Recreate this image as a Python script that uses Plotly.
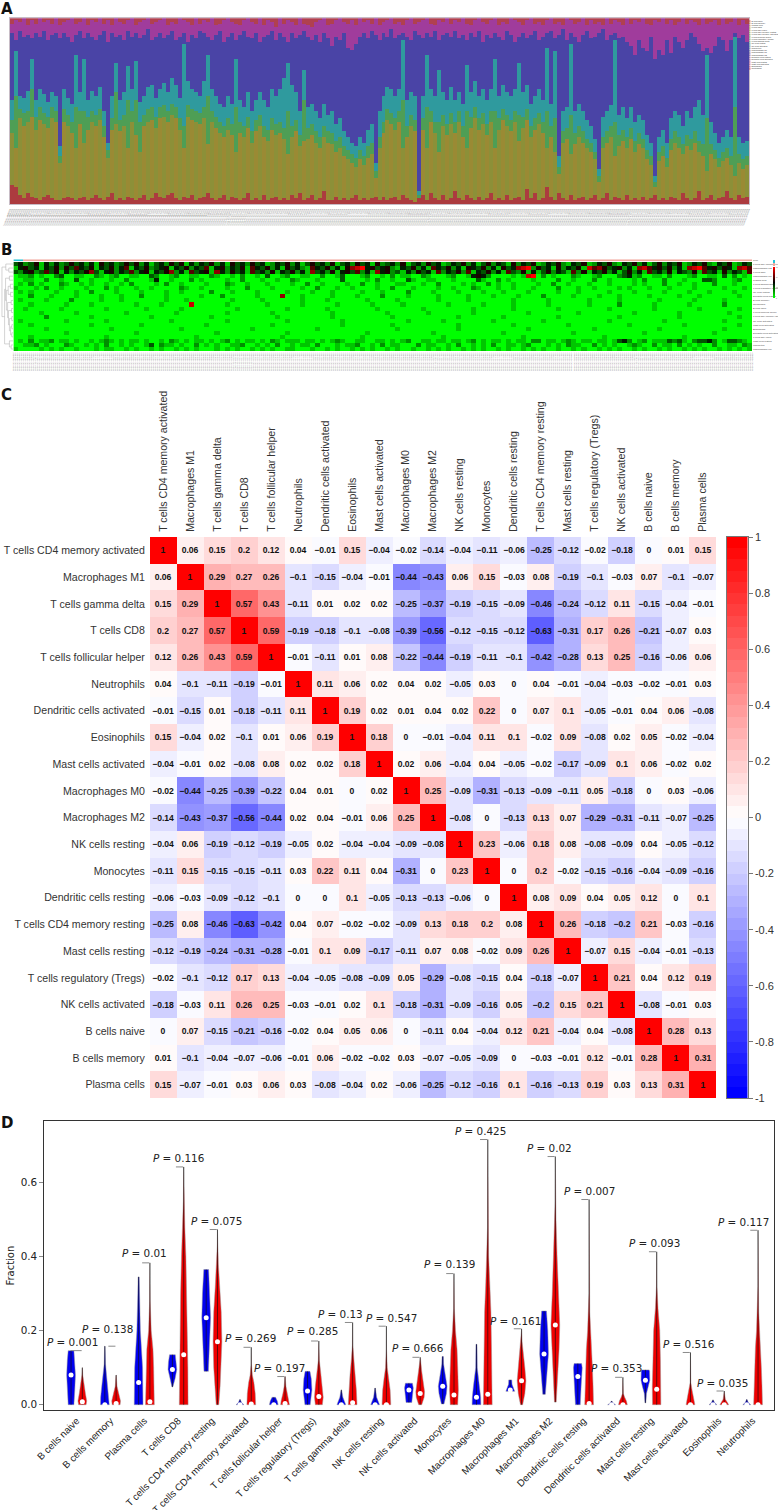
import plotly.graph_objects as go
import numpy as np

W, H = 778, 1510

# ---------- panel A: stacked composition, cumulative percent
RED_TOP = [10,9,5,3,6,4,3,2,4,5,3,2,2,3,4,3,2,3,4,2,3,5,3,2,4,6,2,3,2,4,3,2,3,5,2,3,6,
           4,3,5,6,3,2,4,3,5,2,3,4,6,3,2,3,5,2,4,3,2,3,6,2,3,2,5,2,3,4,2,3,2,5,3,6,2,
           3,5,2,3,7,2,2,4,2,3,2,3,5,2,3,2,3,4,2,4,2,3,4,2,5,3,2,1,3,5,2,6,3,2,5,2,3,
           7,3,2,5,3,2,4,2,3,6,2,3,2,5,2,3,4,2,8,3,6,2,3,9,4,2,6,3,2,5,2,3,4,2,3,5,2,
           3,6,2,4,3,2,5,2,3,2,4,2,3,5,2,3,2,4,3,2,6,3,2,3,7,2,3,5,2,3,4,7,3,2,5,3,4]
OLIVE_TOP = [38,30,46,42,44,47,40,45,43,41,46,44,22,44,42,38,30,43,33,40,44,42,45,36,25,40,43,39,42,30,44,37,28,42,44,45,41,
             46,47,44,48,46,40,30,47,45,44,43,46,32,44,41,38,36,40,37,28,38,36,41,33,39,42,36,34,40,37,38,35,27,36,39,31,34,
             35,37,33,30,36,33,32,28,30,26,24,22,20,24,21,25,27,14,30,38,45,43,40,44,30,36,42,39,3,40,30,44,38,28,42,37,43,
             38,44,36,30,41,46,40,43,37,44,30,40,45,42,39,44,34,41,45,36,40,43,38,30,36,28,16,33,35,27,32,36,33,30,28,24,12,
             30,33,36,26,31,34,30,35,28,32,30,24,21,9,23,26,20,29,33,30,27,31,29,33,28,26,18,27,24,20,23,25,21,15,22,19,21]
GREEN_TOP = [45,58,51,49,50,62,47,52,49,47,52,50,26,51,48,44,52,50,50,47,50,48,51,42,29,46,60,45,48,56,50,56,44,48,51,52,47,
             52,53,50,54,52,46,42,53,51,50,49,52,58,50,47,44,42,46,43,52,44,42,47,39,45,48,42,40,46,43,44,41,50,42,45,37,56,
             41,43,39,36,42,39,38,34,36,31,29,27,25,29,26,31,33,18,36,44,51,49,46,50,56,42,48,45,5,46,52,50,44,44,48,43,49,
             44,50,42,50,47,52,46,49,43,50,50,46,51,48,45,50,48,47,51,42,46,49,44,50,42,46,20,39,41,48,38,42,39,35,33,28,15,
             36,39,42,44,37,40,36,41,34,38,35,29,26,12,28,31,25,35,39,36,32,37,35,39,34,32,46,32,29,25,28,30,26,52,27,24,26]
TEAL_TOP = [56,82,58,57,61,78,56,62,59,55,60,58,31,62,57,54,80,60,78,56,61,58,63,50,33,58,76,56,60,74,62,77,55,58,63,64,57,
            62,65,60,68,64,57,86,66,62,60,58,66,80,62,58,54,52,58,54,78,56,52,60,50,56,60,56,52,62,58,62,68,76,64,60,50,72,
            52,54,50,46,54,48,50,43,46,39,36,33,31,36,33,40,43,22,50,58,63,62,58,62,88,56,60,58,7,58,80,62,58,72,60,56,63,
            56,60,54,75,60,66,58,62,56,62,78,58,64,60,58,62,76,60,64,54,58,62,56,84,54,82,26,50,52,86,50,54,50,45,42,35,19,
            47,50,53,88,48,52,46,52,44,48,45,37,33,15,36,40,33,46,50,48,42,50,46,52,56,48,80,44,38,33,36,40,36,90,36,33,34]
BLUE_TOP = [92,88,93,90,91,89,92,90,93,88,91,92,89,92,90,87,91,93,89,92,90,88,91,93,87,92,90,91,88,93,90,92,89,91,94,88,90,
            92,89,91,93,88,90,92,87,91,89,93,92,90,88,91,93,87,90,92,88,91,93,90,89,92,87,90,91,93,88,92,90,87,92,89,91,93,
            90,88,91,87,92,89,85,90,88,92,84,83,86,90,92,89,93,91,88,92,90,94,89,91,92,90,88,93,91,89,92,90,93,88,91,92,90,
            93,89,91,88,92,90,93,87,91,89,92,90,88,93,91,87,90,92,89,91,93,88,90,92,93,89,91,94,88,92,90,87,91,93,89,90,92,
            94,88,91,92,89,90,87,85,80,88,84,82,90,78,83,80,88,81,90,87,84,88,92,90,86,82,84,81,85,90,88,82,88,92,89,91,87]
MAGENTA_TOP = [97,99,98,100,96,99,97,100,98,99,97,100,96,98,99,100,97,98,100,96,99,98,100,97,99,96,100,98,97,99,100,96,98,99,100,97,98,
               99,100,96,98,97,100,99,98,96,100,97,99,98,100,96,97,99,100,98,97,96,99,100,98,97,100,96,99,98,95,100,97,99,98,96,100,97,
               96,95,98,99,100,96,97,99,100,98,97,99,96,100,98,99,97,100,96,98,99,100,97,98,96,99,100,97,98,99,100,97,96,99,98,100,97,
               99,98,100,97,96,99,100,98,97,99,100,96,98,97,100,99,98,96,99,100,97,98,96,99,100,97,98,96,100,99,97,98,100,96,99,97,98,
               96,100,97,99,98,96,100,97,99,98,100,97,96,99,98,100,97,99,96,98,100,97,99,98,96,100,97,98,99,96,100,97,98,100,96,99,97]

STACK_NAMES = ["B cells", "T cells CD8 / CD4", "T cells other", "NK cells", "Macrophages", "Dendritic / Mast", "Neutrophils"]
STACK_COLORS = ["#AC3B3F", "#968B38", "#4E9E55", "#2F9A9E", "#4A44A6", "#A03C9C", "#B04050"]

LEGEND_NAMES = ["B cells naive", "B cells memory", "Plasma cells", "T cells CD8", "T cells CD4 naive",
                "T cells CD4 memory resting", "T cells CD4 memory activated", "T cells follicular helper",
                "T cells regulatory (Tregs)", "T cells gamma delta", "NK cells resting", "NK cells activated",
                "Monocytes", "Macrophages M0", "Macrophages M1", "Macrophages M2", "Dendritic cells resting",
                "Dendritic cells activated", "Mast cells resting", "Mast cells activated", "Eosinophils", "Neutrophils"]
LEGEND_COLORS = ["#C8403C", "#B8642C", "#A87C28", "#A08C28", "#8C9430", "#74A038", "#58A048", "#48A058",
                 "#40A070", "#38A088", "#30A0A0", "#3090B0", "#3878B0", "#4060B0", "#4848A8", "#5840A8",
                 "#7040A8", "#8840A8", "#A03CA0", "#B03C90", "#B83C78", "#C03C60"]

# ---------- panel B: heatmap, one digit per column (0 = green, 5 = black, 9 = red)
HEAT_LABELS = ["T cells CD4 memory resting", "Macrophages M2", "T cells CD8", "Macrophages M0", "Plasma cells",
               "T cells gamma delta", "T cells regulatory (Tregs)", "NK cells resting", "Dendritic cells resting",
               "B cells memory", "Neutrophils", "B cells naive", "T cells follicular helper", "T cells CD4 memory activated",
               "NK cells activated", "Mast cells activated", "Eosinophils", "Dendritic cells activated", "T cells CD4 naive",
               "Mast cells resting", "Monocytes", "Macrophages M1"]
HEAT_ROWS = [
    "342351424235342415342353524134253514243524153425341243524135342513425341523425134253412435241352431524351243521435124352143524135243512435214351243",
    "145341435253643514352461435234514352436145243516435241534216435241578945345214352416435241543524153478925341524351867534524178645352417896453541786",
    "324523635142435731452436245143572416345174253416342514352417342514536241745231425341624352614352416325141352431625143524135241634251432516341524316",
    "011201002300110021012001100320012001100210010200103001200110020013000120010201100210001200145420000101890201000210012000234120011020001200110302010",
    "001100200100300100010020000140010002010000100200010010021000100003000010200100310011000100003100201000010000200100020010000102000200010003320001200",
    "010201000210010100100102000010200100001000210010001000010020010000100200100011000100200001010020100100001002001000100010000101000200100100020001000",
    "100010200100001000201000100100000210010000100020000100000100200010010000100200010000100100021000100100010000200010010000101000100010000100000100010",
    "010100001000100200001000010000100100000200010000100000100001000100000100010000200001000010000100010000100000100010000010000100000100001000100001000",
    "000200010000100001000100020000100000010002000000100007000100000100001000020000100000100000100001000010000200000100001000100000100000100010000000100",
    "010000100002000001000100000000100010000000010000010000000100001000000010000010000000100000100000000100000010000000100000100000001000000100000100000",
    "000100000010000100000000100001000008000000100000001000000100000010000001000001000000001000000100000100000010000000100000200000010000001000000200000",
    "001000000100000000100000001000000100000000001000000000100000001000000000100000000100000000010000000100000000100000000010000000010000000010000000100",
    "000001000000100000000010000000001000000000100000000100000000000100000000001000000010000000010000000000100000000010000000000100000000100000000010000",
    "000000200000000100000000000100000000000100000000000010000000000100000000000100000000000010000000010000000000100000000000100000000000100000000000100",
    "010000000010000000100000000000010000000000100000000000100000000001000000000000100000010000000001000000000100000000000010000000000100000000000100000",
    "000100000000000100000000010000000000001000000000000100000000000001000000000100000000000010000000000100000000001000000000001000000000010000000000100",
    "000000100000000000010000000000000100000000000001000000000000100000000000000010000000000010000000000000100000000000010000000000001000000000000100000",
    "000000000010000000000000100000000000000010000000000000100000000000000010000000000001000000000000010000000000000100000000000001000000000000010000000",
    "000100000000000000100000000000000000100000000000000001000000000000000100000000000000010000000000000001000000000000000100000000000000010000000000000",
    "010201120110100101210101101001021010110101201011010210111011010121001100110101200110110110120101101011022011012101101101342012011132310233420133210",
    "001120100021001010200101001302110100201010011200101020010110200010112001020110002011001020010102001101200010102110020101001210020110201010020011021",
    "100001010100100010110010100101001010100010101001010100110001001010010101001010010010101001010100101001010100100101001010100101001010010101001010101",
]
ANNOT_BAR = [0, 0] + [1] * 148
DENDRO_MERGES = [(1, 0, 2, 0, .35), (0, 0, 1.5, .35, .6), (20, 0, 21, 0, .15), (19, 0, 20.5, .15, .3), (3, 0, 4, 0, .3),
                 (17, 0, 18, 0, .1), (15, 0, 16, 0, .1), (15.5, .1, 17.5, .1, .2), (13, 0, 14, 0, .1), (13.5, .1, 16.5, .2, .3),
                 (11, 0, 12, 0, .12), (11.5, .12, 15, .3, .38), (9, 0, 10, 0, .15), (9.5, .15, 13.25, .38, .45), (7, 0, 8, 0, .2),
                 (5, 0, 6, 0, .22), (5.5, .22, 7.5, .2, .4), (6.5, .4, 11.4, .45, .55), (3.5, .3, 9, .55, .62),
                 (6.25, .62, 19.75, .3, .7), (.75, .6, 13, .7, .92)]

# ---------- panel C: correlation matrix
CORR_LABELS = ["T cells CD4 memory activated", "Macrophages M1", "T cells gamma delta", "T cells CD8", "T cells follicular helper",
               "Neutrophils", "Dendritic cells activated", "Eosinophils", "Mast cells activated", "Macrophages M0", "Macrophages M2",
               "NK cells resting", "Monocytes", "Dendritic cells resting", "T cells CD4 memory resting", "Mast cells resting",
               "T cells regulatory (Tregs)", "NK cells activated", "B cells naive", "B cells memory", "Plasma cells"]
CORR = [
    [1, .06, .15, .2, .12, .04, -.01, .15, -.04, -.02, -.14, -.04, -.11, -.06, -.25, -.12, -.02, -.18, 0, .01, .15],
    [.06, 1, .29, .27, .26, -.1, -.15, -.04, -.01, -.44, -.43, .06, .15, -.03, .08, -.19, -.1, -.03, .07, -.1, -.07],
    [.15, .29, 1, .57, .43, -.11, .01, .02, .02, -.25, -.37, -.19, -.15, -.09, -.46, -.24, -.12, .11, -.15, -.04, -.01],
    [.2, .27, .57, 1, .59, -.19, -.18, -.1, -.08, -.39, -.56, -.12, -.15, -.12, -.63, -.31, .17, .26, -.21, -.07, .03],
    [.12, .26, .43, .59, 1, -.01, -.11, .01, .08, -.22, -.44, -.19, -.11, -.1, -.42, -.28, .13, .25, -.16, -.06, .06],
    [.04, -.1, -.11, -.19, -.01, 1, .11, .06, .02, .04, .02, -.05, .03, 0, .04, -.01, -.04, -.03, -.02, -.01, .03],
    [-.01, -.15, .01, -.18, -.11, .11, 1, .19, .02, .01, .04, .02, .22, 0, .07, .1, -.05, -.01, .04, .06, -.08],
    [.15, -.04, .02, -.1, .01, .06, .19, 1, .18, 0, -.01, -.04, .11, .1, -.02, .09, -.08, .02, .05, -.02, -.04],
    [-.04, -.01, .02, -.08, .08, .02, .02, .18, 1, .02, .06, -.04, .04, -.05, -.02, -.17, -.09, .1, .06, -.02, .02],
    [-.02, -.44, -.25, -.39, -.22, .04, .01, 0, .02, 1, .25, -.09, -.31, -.13, -.09, -.11, .05, -.18, 0, .03, -.06],
    [-.14, -.43, -.37, -.56, -.44, .02, .04, -.01, .06, .25, 1, -.08, 0, -.13, .13, .07, -.29, -.31, -.11, -.07, -.25],
    [-.04, .06, -.19, -.12, -.19, -.05, .02, -.04, -.04, -.09, -.08, 1, .23, -.06, .18, .08, -.08, -.09, .04, -.05, -.12],
    [-.11, .15, -.15, -.15, -.11, .03, .22, .11, .04, -.31, 0, .23, 1, 0, .2, -.02, -.15, -.16, -.04, -.09, -.16],
    [-.06, -.03, -.09, -.12, -.1, 0, 0, .1, -.05, -.13, -.13, -.06, 0, 1, .08, .09, .04, .05, .12, 0, .1],
    [-.25, .08, -.46, -.63, -.42, .04, .07, -.02, -.02, -.09, .13, .18, .2, .08, 1, .26, -.18, -.2, .21, -.03, -.16],
    [-.12, -.19, -.24, -.31, -.28, -.01, .1, .09, -.17, -.11, .07, .08, -.02, .09, .26, 1, -.07, .15, -.04, -.01, -.13],
    [-.02, -.1, -.12, .17, .13, -.04, -.05, -.08, -.09, .05, -.29, -.08, -.15, .04, -.18, -.07, 1, .21, .04, .12, .19],
    [-.18, -.03, .11, .26, .25, -.03, -.01, .02, .1, -.18, -.31, -.09, -.16, .05, -.2, .15, .21, 1, -.08, -.01, .03],
    [0, .07, -.15, -.21, -.16, -.02, .04, .05, .06, 0, -.11, .04, -.04, .12, .21, -.04, .04, -.08, 1, .28, .13],
    [.01, -.1, -.04, -.07, -.06, -.01, .06, -.02, -.02, .03, -.07, -.05, -.09, 0, -.03, -.01, .12, -.01, .28, 1, .31],
    [.15, -.07, -.01, .03, .06, .03, -.08, -.04, .02, -.06, -.25, -.12, -.16, .1, -.16, -.13, .19, .03, .13, .31, 1],
]

# ---------- panel D: violins, each profile is (fraction, relative density)
VIOLIN_LABELS = ["B cells naive", "B cells memory", "Plasma cells", "T cells CD8", "T cells CD4 memory resting",
                 "T cells CD4 memory activated", "T cells follicular helper", "T cells regulatory (Tregs)", "T cells gamma delta",
                 "NK cells resting", "NK cells activated", "Monocytes", "Macrophages M0", "Macrophages M1", "Macrophages M2",
                 "Dendritic cells resting", "Dendritic cells activated", "Mast cells resting", "Mast cells activated",
                 "Eosinophils", "Neutrophils"]
BLUE_PROFILES = [
    [(0, .65), (.04, .85), (.08, 1), (.12, .85), (.146, .65)],
    [(0, 1), (.02, .95), (.05, .7), (.08, .4), (.11, .15), (.158, .05)],
    [(0, 1), (.1, .9), (.15, .65), (.2, .4), (.3, .18), (.345, .12)],
    [(.048, .1), (.07, .6), (.095, 1), (.115, .9), (.135, .65)],
    [(.09, .5), (.15, .7), (.235, 1), (.3, .85), (.365, .55)],
    [(0, .9), (.005, .4), (.014, .05)],
    [(0, 1), (.01, .8), (.02, .4)],
    [(0, .6), (.02, .85), (.04, 1), (.07, .85), (.09, .55)],
    [(0, 1), (.01, .75), (.02, .35), (.04, .06)],
    [(0, 1), (.01, .75), (.02, .35), (.045, .06)],
    [(.006, .65), (.03, .9), (.045, 1), (.058, .8)],
    [(.002, .3), (.03, .85), (.05, 1), (.08, .6), (.11, .2), (.13, .15)],
    [(0, 1), (.02, .95), (.05, .7), (.08, .4), (.1, .18), (.163, .12)],
    [(.036, 1), (.045, .7), (.055, .4), (.067, .35)],
    [(.028, .3), (.07, .55), (.137, 1), (.2, .85), (.253, .55)],
    [(0, .55), (.05, .75), (.076, .95), (.1, 1), (.111, .85)],
    [(0, .9), (.004, .4), (.01, .05)],
    [(.005, .1), (.03, .25), (.05, .7), (.066, 1), (.09, .95), (.094, .85)],
    [],
    [(0, .9), (.005, .4), (.013, .05)],
    [(0, .9), (.005, .4), (.014, .05)],
]
RED_PROFILES = [
    [(0, .85), (.01, 1), (.03, .7), (.06, .3), (.08, .1), (.1, .03)],
    [(0, .9), (.01, 1), (.03, .6), (.05, .2), (.08, .03)],
    [(0, 1), (.05, .95), (.1, .85), (.15, .7), (.2, .3), (.28, .06), (.383, .01)],
    [(0, 1), (.1, .95), (.2, .85), (.3, .7), (.4, .5), (.48, .25), (.55, .08), (.642, .01)],
    [(0, .3), (.05, .6), (.1, .85), (.17, 1), (.25, .85), (.32, .5), (.38, .2), (.43, .05), (.473, .01)],
    [(0, 1), (.03, .9), (.06, .6), (.08, .25), (.11, .04), (.155, .01)],
    [(0, 1), (.01, .9), (.03, .5), (.05, .2), (.076, .03)],
    [(0, .8), (.02, 1), (.05, .8), (.09, .4), (.12, .12), (.172, .01)],
    [(0, 1), (.04, .85), (.08, .6), (.12, .3), (.16, .06), (.222, .01)],
    [(0, 1), (.04, .85), (.07, .55), (.1, .2), (.15, .03), (.212, .01)],
    [(0, .35), (.02, .9), (.035, 1), (.06, .7), (.09, .35), (.128, .03)],
    [(0, .85), (.04, 1), (.1, .85), (.15, .7), (.2, .35), (.26, .08), (.354, .01)],
    [(0, 1), (.05, .95), (.15, .85), (.25, .72), (.33, .45), (.4, .2), (.48, .05), (.716, .005)],
    [(0, .25), (.03, .75), (.065, 1), (.1, .75), (.14, .45), (.17, .12), (.205, .01)],
    [(.007, .2), (.07, .45), (.15, .85), (.215, 1), (.3, .7), (.4, .4), (.5, .15), (.55, .04), (.67, .005)],
    [(0, 1), (.05, .9), (.1, .75), (.15, .63), (.2, .35), (.25, .15), (.3, .03), (.554, .005)],
    [(0, 1), (.01, .8), (.02, .4), (.03, .1), (.074, .01)],
    [(0, .95), (.05, 1), (.12, .85), (.2, .7), (.26, .3), (.32, .06), (.413, .005)],
    [(0, 1), (.02, .7), (.04, .35), (.06, .08), (.141, .005)],
    [(0, 1), (.005, .75), (.015, .25), (.037, .01)],
    [(0, 1), (.05, .9), (.1, .75), (.154, .6), (.2, .35), (.25, .15), (.32, .03), (.471, .005)],
]
BLUE_MEDIANS = [.08, 0, .06, .095, .235, 0, 0, .037, 0, 0, .04, .05, .02, .04, .137, .076, 0, .066, None, 0, 0]
RED_MEDIANS = [.008, .003, .008, .135, .17, .002, .003, .022, .005, 0, .03, .026, .028, .065, .215, .003, 0, .042, 0, 0, 0]
P_VALUES = ["0.001", "0.138", "0.01", "0.116", "0.075", "0.269", "0.197", "0.285", "0.13", "0.547", "0.666",
            "0.139", "0.425", "0.161", "0.02", "0.007", "0.353", "0.093", "0.516", "0.035", "0.117"]
P_BRACKET_Y = [.146, .158, .383, .642, .473, .155, .076, .172, .222, .212, .128, .354, .716, .205, .67, .554, .074, .413, .141, .037, .471]
P_LABEL_Y = [.169, .205, .41, .666, .496, .179, .099, .198, .245, .235, .152, .38, .739, .227, .693, .577, .098, .437, .163, .059, .492]
P_LABEL_SHIFT = [-4.4, -3, 0, 0, 4.9, 4.4, .3, -.9, -6.7, 11, 3.2, 1, -1.7, -.8, -.3, 5.6, -.5, 3, 3.3, 3.5, -9.3]

def dom_x(left, right):
    return [left / W, right / W]

def dom_y(top, bottom):
    return [1 - bottom / H, 1 - top / H]

fig = go.Figure()

# panel A
n_a = len(RED_TOP)
cumul = [[0] * n_a, RED_TOP, OLIVE_TOP, GREEN_TOP, TEAL_TOP, BLUE_TOP, MAGENTA_TOP, [100] * n_a]
for k in range(7):
    heights = np.clip(np.array(cumul[k + 1]) - np.array(cumul[k]), 0, None) / 100
    colors = STACK_COLORS[k]
    if k == 1:
        colors = ["#9A8A34" if i % 2 else "#8C9038" for i in range(n_a)]
    fig.add_trace(go.Bar(x=list(range(n_a)), y=heights, name=STACK_NAMES[k], marker=dict(color=colors, line=dict(width=0)),
                         xaxis="x", yaxis="y", hoverinfo="skip"))

fig.add_trace(go.Scatter(x=[0] * len(LEGEND_NAMES), y=list(range(len(LEGEND_NAMES))), mode="markers+text", text=LEGEND_NAMES,
                         textposition="middle right", textfont=dict(size=2, family="Liberation Sans", color="#333333"),
                         marker=dict(symbol="square", size=1.6, color=LEGEND_COLORS), xaxis="x7", yaxis="y7", hoverinfo="skip"))

# panel B
n_b = max(len(r) for r in HEAT_ROWS)
heat_z = [[int(c) for c in r.ljust(n_b, "0")] for r in HEAT_ROWS]
heat_scale = [[0, "#00FF00"], [.5, "#000000"], [1, "#FF0000"]]
fig.add_trace(go.Heatmap(z=heat_z, zmin=0, zmax=9, colorscale=heat_scale, showscale=False,
                         xaxis="x2", yaxis="y2", hoverinfo="skip"))
fig.add_trace(go.Heatmap(z=[ANNOT_BAR], zmin=0, zmax=1, colorscale=[[0, "#22C5D8"], [1, "#F3A79E"]], showscale=False,
                         xaxis="x5", yaxis="y5", hoverinfo="skip"))
den_x, den_y = [], []
for ya, ha, yb, hb, h in DENDRO_MERGES:
    den_x += [ha, h, h, hb, None]
    den_y += [ya, ya, yb, yb, None]
fig.add_trace(go.Scatter(x=den_x, y=den_y, mode="lines", line=dict(color="#A8A8A8", width=.5), xaxis="x6", yaxis="y6", hoverinfo="skip"))
scale_b = list(np.linspace(0, 9, 31))
fig.add_trace(go.Heatmap(z=[[v] for v in scale_b], y=scale_b, zmin=0, zmax=9, colorscale=heat_scale, showscale=False,
                         xaxis="x9", yaxis="y9", hoverinfo="skip"))
# the swatches of the Type legend above the small scale
fig.add_trace(go.Heatmap(z=[[1], [0]], zmin=0, zmax=1, colorscale=[[0, "#22C5D8"], [1, "#F3A79E"]], showscale=False,
                         xaxis="x10", yaxis="y10", hoverinfo="skip"))

# panel C, 50 steps from blue over white to red like the corrplot palette
steps = []
eps = 1e-4
for i in range(50):
    t = i / 49
    if t < .5:
        v = int(round(255 * t * 2))
        col = f"rgb({v},{v},255)"
    else:
        v = int(round(255 * (1 - t) * 2))
        col = f"rgb(255,{v},{v})"
    lo = 0 if i == 0 else i / 50 + eps
    hi = 1 if i == 49 else (i + 1) / 50 + eps
    steps += [[lo, col], [hi, col]]
corr_text = [[f"{v:g}".replace("-", "\u2212") for v in row] for row in CORR]
fig.add_trace(go.Heatmap(z=CORR, x=CORR_LABELS, y=CORR_LABELS, text=corr_text, texttemplate="<b>%{text}</b>",
                         textfont=dict(size=8.6, family="Liberation Sans", color="#111111"),
                         zmin=-1, zmax=1, colorscale=steps, showscale=False, xaxis="x3", yaxis="y3", hoverinfo="skip"))
scale_c = [round(-.98 + .04 * i, 2) for i in range(50)]
fig.add_trace(go.Heatmap(z=[[v] for v in scale_c], y=scale_c, zmin=-1, zmax=1, colorscale=steps, showscale=False,
                         xaxis="x8", yaxis="y8", hoverinfo="skip"))

# panel D
OFFSET = .167
MAX_HALF = .13

def violin_outline(profiles, side):
    xs, ys = [], []
    for i, prof in enumerate(profiles):
        if not prof:
            continue
        center = i + side * OFFSET
        vals = [p[0] for p in prof]
        half = [p[1] * MAX_HALF for p in prof]
        xs += [center - h for h in half] + [center + h for h in reversed(half)] + [center - half[0], None]
        ys += vals + list(reversed(vals)) + [vals[0], None]
    return xs, ys

for profiles, side, color in [(BLUE_PROFILES, -1, "#0000F0"), (RED_PROFILES, 1, "#F00000")]:
    xs, ys = violin_outline(profiles, side)
    fig.add_trace(go.Scatter(x=xs, y=ys, mode="lines", fill="toself", fillcolor=color,
                             line=dict(color="rgba(150,150,150,0.7)", width=.7), xaxis="x4", yaxis="y4", hoverinfo="skip"))
wx, wy = [], []
for profiles, side in [(BLUE_PROFILES, -1), (RED_PROFILES, 1)]:
    for i, prof in enumerate(profiles):
        if prof:
            wx += [i + side * OFFSET, i + side * OFFSET, None]
            wy += [prof[0][0], prof[-1][0], None]
fig.add_trace(go.Scatter(x=wx, y=wy, mode="lines", line=dict(color="rgba(15,15,15,0.8)", width=.8), xaxis="x4", yaxis="y4", hoverinfo="skip"))
med_x = [i - OFFSET for i, m in enumerate(BLUE_MEDIANS) if m is not None] + [i + OFFSET for i in range(len(RED_MEDIANS))]
med_y = [m for m in BLUE_MEDIANS if m is not None] + RED_MEDIANS
fig.add_trace(go.Scatter(x=med_x, y=med_y, mode="markers", marker=dict(color="white", size=5, line=dict(width=0)),
                         xaxis="x4", yaxis="y4", hoverinfo="skip", cliponaxis=False))
bx, by = [], []
for i, top in enumerate(P_BRACKET_Y):
    left = i + OFFSET - (.34 if i == 0 else .23)
    bx += [left, i + OFFSET - .02, None]
    by += [top, top, None]
fig.add_trace(go.Scatter(x=bx, y=by, mode="lines", line=dict(color="#8A8A8A", width=1), xaxis="x4", yaxis="y4", hoverinfo="skip"))

annotations = []
for i, p in enumerate(P_VALUES):
    annotations.append(dict(xref="x4", yref="y4", x=i + P_LABEL_SHIFT[i] / 33.78, y=P_LABEL_Y[i], text=f"<i>P</i> = {p}", showarrow=False,
                            font=dict(size=10.4, family="DejaVu Sans", color="#222222"), xanchor="center", yanchor="middle"))
for letter, ypos in [("A", 9), ("B", 250), ("C", 395), ("D", 1123)]:
    annotations.append(dict(xref="paper", yref="paper", x=0, y=1 - ypos / H, text=f"<b>{letter}</b>", showarrow=False,
                            font=dict(size=15, family="DejaVu Sans", color="#111111"), xanchor="left", yanchor="middle", xshift=-1))

n_ids = 370
sample_ids = [f"TCGA-BC-A{i:03d}-01A" for i in range(n_ids)]
ticks_a = list(np.linspace(-.5, n_a - .5, n_ids))
ticks_b = list(np.linspace(-.5, n_b - .5, n_ids))
hidden = dict(showticklabels=False, showgrid=False, zeroline=False, ticks="", showline=False)

fig.update_layout(
    template="none",  # the default template turns automargin on and shifts every panel
    width=W, height=H, margin=dict(l=0, r=0, t=0, b=0, pad=0), paper_bgcolor="white", plot_bgcolor="white",
    showlegend=False, barmode="stack", bargap=0, annotations=annotations,
    # A
    xaxis=dict(domain=dom_x(10, 749), anchor="y", range=[-.5, n_a - .5], tickmode="array", tickvals=ticks_a, ticktext=sample_ids,
               tickangle=-70, tickfont=dict(size=2, family="Liberation Sans", color="#777777"), ticks="outside", ticklen=2,
               tickcolor="white", showgrid=False, zeroline=False, showline=True, linecolor="#C8BCC6", mirror=True),
    yaxis=dict(domain=dom_y(18.3, 204.3), anchor="x", range=[0, 1], showticklabels=False, showgrid=False, zeroline=False,
               ticks="", showline=True, linecolor="#C8BCC6", mirror=True),
    xaxis7=dict(domain=dom_x(749.5, 778), anchor="y7", range=[0, 28.5], **hidden),
    yaxis7=dict(domain=dom_y(20, 70), anchor="x7", range=[21.5, -.5], **hidden),
    # B
    xaxis2=dict(domain=dom_x(13.4, 752), anchor="y2", range=[-.5, n_b - .5], tickmode="array", tickvals=ticks_b, ticktext=sample_ids,
                tickangle=-90, tickfont=dict(size=2, family="Liberation Sans", color="#777777"), ticks="", showgrid=False, zeroline=False),
    yaxis2=dict(domain=dom_y(262, 351), anchor="x2", side="right", range=[21.5, -.5], tickmode="array", tickvals=list(range(22)),
                ticktext=HEAT_LABELS, tickfont=dict(size=2.4, family="Liberation Sans", color="#444444"), ticks="", showgrid=False, zeroline=False),
    xaxis5=dict(domain=dom_x(13.4, 752), anchor="y5", range=[-.5, n_b - .5], **hidden),
    yaxis5=dict(domain=dom_y(259.3, 261.3), anchor="x5", side="right", tickmode="array", tickvals=[0], ticktext=["Type"],
                tickfont=dict(size=2.4, family="Liberation Sans", color="#444444"), ticks="", showgrid=False, zeroline=False),
    xaxis6=dict(domain=dom_x(1, 13), anchor="y6", range=[1, 0], **hidden),
    yaxis6=dict(domain=dom_y(262, 351), anchor="x6", range=[21.5, -.5], **hidden),
    xaxis9=dict(domain=dom_x(773, 775), anchor="y9", **hidden),
    yaxis9=dict(domain=dom_y(267, 298), anchor="x9", side="right", range=[0, 9], tickmode="array", tickvals=[0, 3, 6, 9],
                ticktext=["0", "0.2", "0.4", "0.6"], tickfont=dict(size=1.6, color="#555555"), ticks="", showgrid=False, zeroline=False),
    xaxis10=dict(domain=dom_x(773, 775), anchor="y10", **hidden),
    yaxis10=dict(domain=dom_y(260, 266), anchor="x10", **hidden),
    # C
    xaxis3=dict(domain=dom_x(150, 716), anchor="y3", side="top", type="category", tickangle=-90, ticks="outside", ticklen=2, tickcolor="white",
                tickfont=dict(size=10.6, family="Liberation Sans", color="#333333"), showgrid=False, zeroline=False),
    yaxis3=dict(domain=dom_y(537, 1098), anchor="x3", type="category", autorange="reversed", ticks="outside", ticklen=2, tickcolor="white",
                tickfont=dict(size=10.6, family="Liberation Sans", color="#333333"), showgrid=False, zeroline=False),
    xaxis8=dict(domain=dom_x(726.7, 747.7), anchor="y8", showline=True, linecolor="#777777", mirror=True, showticklabels=False,
                showgrid=False, zeroline=False, ticks=""),
    yaxis8=dict(domain=dom_y(537, 1098), anchor="x8", side="right", range=[-1, 1], tickmode="array",
                tickvals=[-1, -.8, -.6, -.4, -.2, 0, .2, .4, .6, .8, 1],
                ticktext=["-1", "-0.8", "-0.6", "-0.4", "-0.2", "0", "0.2", "0.4", "0.6", "0.8", "1"],
                ticks="outside", ticklen=4, tickcolor="#777777", tickfont=dict(size=11, family="Liberation Sans", color="#333333"),
                showgrid=False, zeroline=False, showline=True, linecolor="#777777", mirror=True),
    # D
    xaxis4=dict(domain=dom_x(44.3, 773.7), anchor="y4", range=[-.959, 20.63], tickmode="array", tickvals=list(range(21)), ticktext=VIOLIN_LABELS,
                tickangle=-45, ticks="", tickfont=dict(size=9.8, family="Liberation Sans", color="#222222"), showgrid=False, zeroline=False,
                showline=True, linecolor="#333333", mirror=True),
    yaxis4=dict(domain=dom_y(1121, 1410.3), anchor="x4", range=[-.0151, .766], tickmode="array", tickvals=[0, .2, .4, .6],
                ticktext=["0.0", "0.2", "0.4", "0.6"], ticks="outside", ticklen=4, tickcolor="#888888",
                tickfont=dict(size=10.4, family="DejaVu Sans", color="#222222"), showgrid=False, zeroline=False,
                showline=True, linecolor="#333333", mirror=True,
                title=dict(text="Fraction", font=dict(size=10, family="DejaVu Sans", color="#222222"))),
)

fig.write_html("out.html", config={"displayModeBar": False},
               post_script="document.body.style.margin='0';document.body.style.overflow='hidden';")
